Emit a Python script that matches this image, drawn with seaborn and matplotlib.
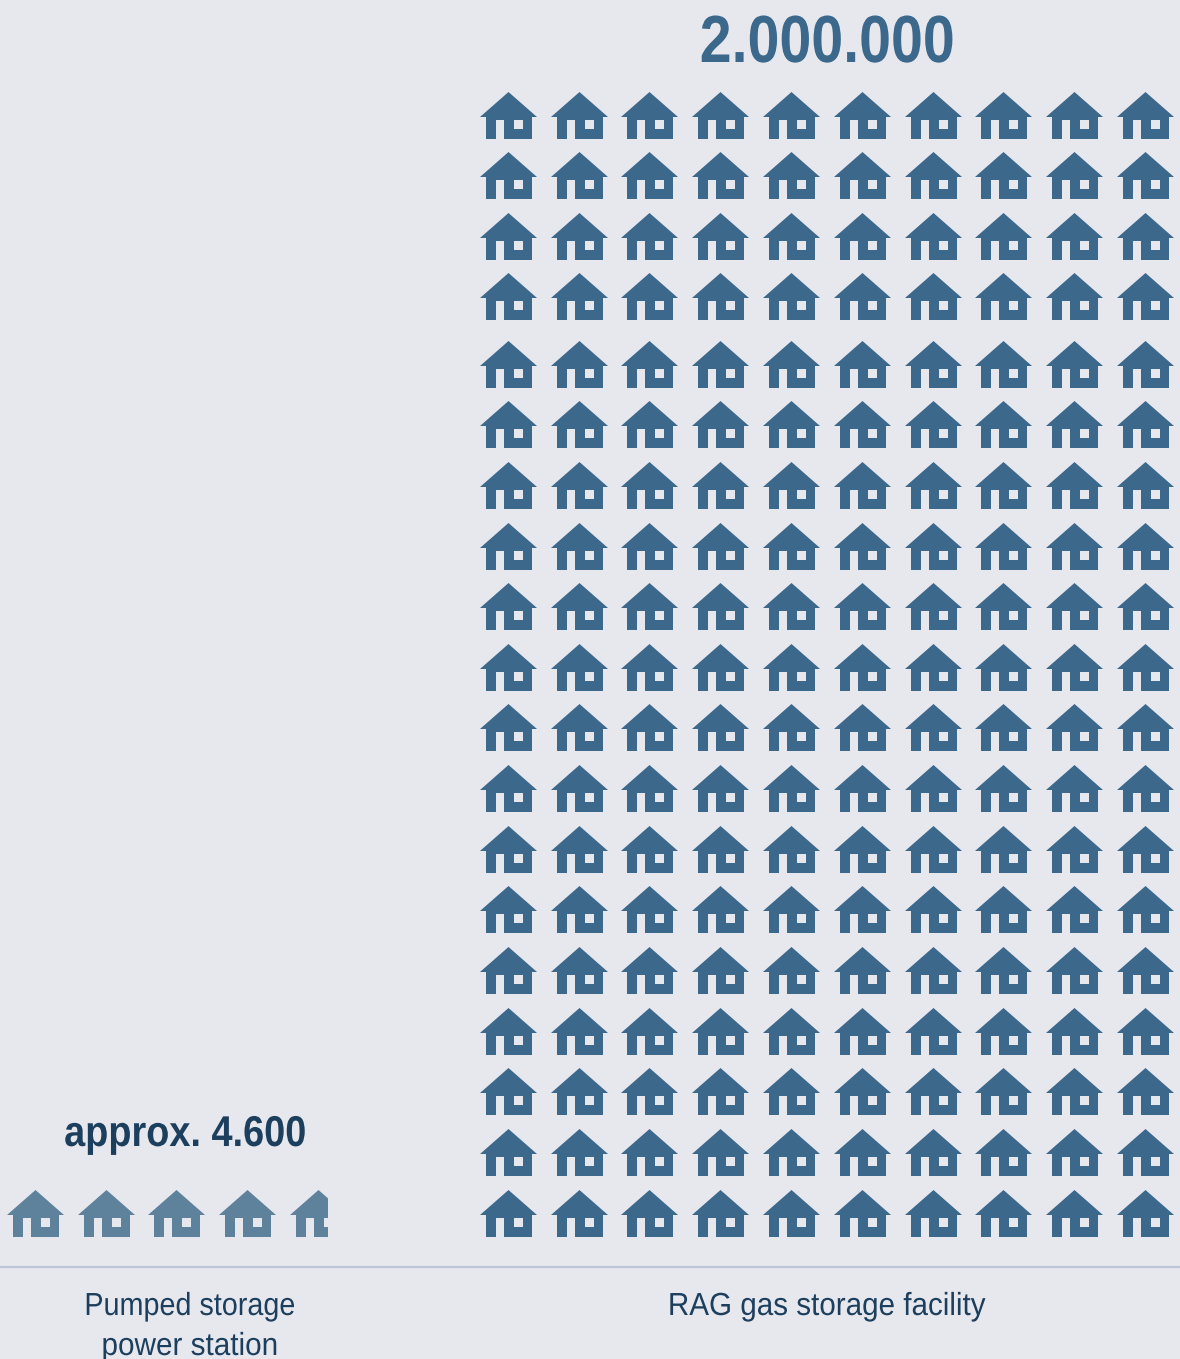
import numpy as np
import pandas as pd
import seaborn as sns
import matplotlib.pyplot as plt
from matplotlib.path import Path
from matplotlib.patches import Rectangle
from matplotlib.patheffects import AbstractPathEffect
from matplotlib.transforms import Affine2D

# Data
categories = ['Pumped storage\npower station', 'RAG gas storage facility']
value_labels = ['approx. 4.600', '2.000.000']
house_counts = [4.66, 190]
houses_per_row = [5, 10]
rows_above_gap = 4

# Layout in pixels
W, H = 1180, 1359
first_x = [34.7, 507.7]
label_x = [190, 827]
step_x = 70.8
step_y = 60.64
bottom_row_y = 1212.6
gap_y = 6.5
house_w = 57

bg = '#e7e8ee'
colors = ['#5e819c', '#3c688c']
text_col = '#1d3f5e'

sns.set_theme(style='white')
plt.rcParams['font.family'] = ['Liberation Sans', 'DejaVu Sans']


class Squeeze(AbstractPathEffect):
    # no condensed font is installed, so narrow the glyphs around the text anchor
    def __init__(self, cx, sx):
        super().__init__()
        self.cx = cx
        self.sx = sx

    def draw_path(self, renderer, gc, tpath, affine, rgbFace=None):
        squeeze = Affine2D().translate(-self.cx, 0).scale(self.sx, 1).translate(self.cx, 0)
        renderer.draw_path(gc, tpath, affine + squeeze, rgbFace)


def house_marker():
    # outline is relative to the house centre, y up
    outer = [(0, 23.5), (28.5, -1.5), (23.5, -1.5), (23.5, -23.5), (-4.5, -23.5),
             (-4.5, -4.5), (-12.5, -4.5), (-12.5, -23.5), (-22.5, -23.5),
             (-22.5, -1.5), (-28.5, -1.5), (0, 23.5)]
    window = [(5.5, -4.5), (5.5, -13.5), (14.5, -13.5), (14.5, -4.5), (5.5, -4.5)]
    verts = outer + window
    codes = [Path.MOVETO] + [Path.LINETO] * (len(outer) - 2) + [Path.CLOSEPOLY]
    codes += [Path.MOVETO] + [Path.LINETO] * (len(window) - 2) + [Path.CLOSEPOLY]
    return Path(verts, codes)


def house_table(count, per_row, x0):
    n = int(np.ceil(count))
    cols = np.arange(n) % per_row
    rows = np.arange(n) // per_row
    total_rows = rows.max() + 1
    y = bottom_row_y - rows * step_y
    if total_rows > rows_above_gap:
        y = y - gap_y * (rows >= total_rows - rows_above_gap)
    return pd.DataFrame({'x': x0 + cols * step_x, 'y': y})


def label(x, y, s, size, color, sx, weight='normal'):
    ax.text(x, y, s, ha='center', va='baseline', fontsize=size, fontweight=weight,
            color=color, path_effects=[Squeeze(x, sx)])


fig = plt.figure(figsize=(W / 100, H / 100), dpi=100, facecolor=bg)
ax = fig.add_axes([0, 0, 1, 1])

marker = house_marker()
size = (house_w * 0.72) ** 2

for i in range(2):
    df = house_table(house_counts[i], houses_per_row[i], first_x[i])
    whole = int(np.floor(house_counts[i]))
    sns.scatterplot(data=df.iloc[:whole], x='x', y='y', marker=marker, s=size,
                    color=colors[i], linewidth=0, ax=ax, legend=False)
    part = house_counts[i] - whole
    if part > 0:
        # last house is only partly filled
        sns.scatterplot(data=df.iloc[whole:], x='x', y='y', marker=marker, s=size,
                        color=colors[i], linewidth=0, ax=ax, legend=False)
        left = df['x'].iloc[-1] - house_w / 2
        clip = Rectangle((left, 0), part * house_w, H, transform=ax.transData)
        ax.collections[-1].set_clip_path(clip)

ax.set_xlim(0, W)
ax.set_ylim(H, 0)
ax.axis('off')

ax.axhline(1267, color='#bcc6d6', lw=1.6)

label(185, 1146, value_labels[0], 31, text_col, 0.88, 'bold')
label(827, 62, value_labels[1], 48, colors[1], 0.86, 'bold')

top_line, second_line = categories[0].split('\n')
label(label_x[0], 1315, top_line, 23, text_col, 0.9)
label(label_x[0], 1355, second_line, 23, text_col, 0.93)
label(label_x[1], 1315, categories[1], 23, text_col, 0.927)

fig.savefig('out.png', dpi=100, facecolor=bg)
